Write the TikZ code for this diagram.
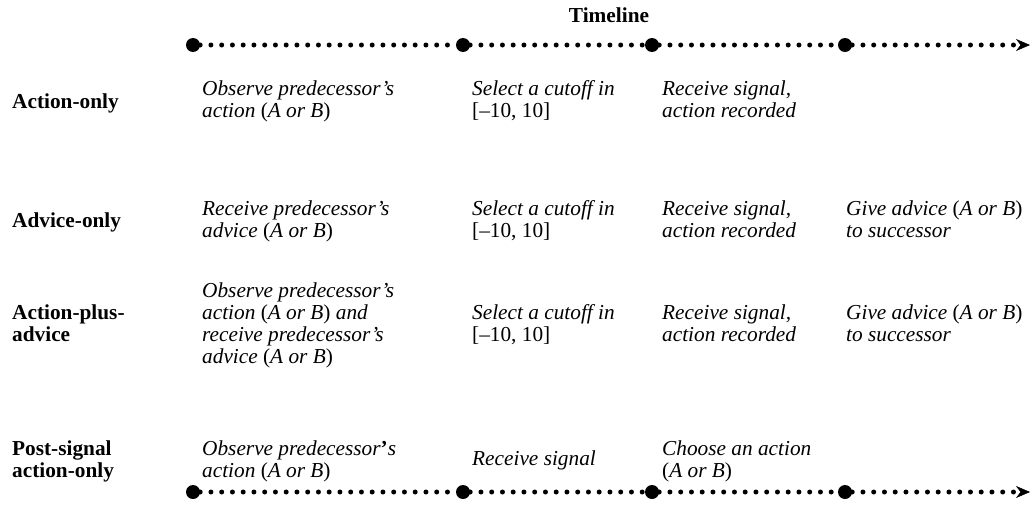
\documentclass[tikz,border=0pt]{standalone}
\usepackage{fontspec}
\setmainfont{Liberation Serif}
\usetikzlibrary{arrows.meta}
\newcommand\AorB{\textup{(}A or B\textup{)}}
\begin{document}
\begin{tikzpicture}[x=1pt,y=-1pt,
  every node/.style={inner sep=0pt, align=left, anchor=base west},
  lbl/.style={font=\fontsize{21.3}{22}\selectfont\bfseries},
  cell/.style={font=\fontsize{21.3}{22}\selectfont\itshape},
  bigdot/.style={circle, fill=black, minimum size=14pt, inner sep=0pt, anchor=center},
  dotline/.style={line width=5pt, line cap=round, dash pattern=on 0pt off 10.75pt},
  tip/.style={-{Stealth[length=14pt,width=12pt,inset=4.5pt,line width=0.5pt]}}
]
\useasboundingbox (0,0) rectangle (1031,522);
\node[lbl, anchor=base] (title) at (609,22) {Timeline};
% top timeline
\node[bigdot] (a1) at (193,45) {};
\node[bigdot] (a2) at (463,45) {};
\node[bigdot] (a3) at (652,45) {};
\node[bigdot] (a4) at (845,45) {};
\coordinate (aend) at (1030,45);
\draw[dotline] (a1) -- (a2);
\draw[dotline] (a2) -- (a3);
\draw[dotline] (a3) -- (a4);
\draw[dotline,tip] (a4) -- (aend);
% bottom timeline
\node[bigdot] (b1) at (193,492) {};
\node[bigdot] (b2) at (463,492) {};
\node[bigdot] (b3) at (652,492) {};
\node[bigdot] (b4) at (845,492) {};
\coordinate (bend) at (1030,492);
\draw[dotline] (b1) -- (b2);
\draw[dotline] (b2) -- (b3);
\draw[dotline] (b3) -- (b4);
\draw[dotline,tip] (b4) -- (bend);
% row 1 (base anchor = baseline of the last line)
\node[lbl] (r1) at (12,108) {Action-only};
\node[cell] (r1c1) at (202,117) {Observe predecessor’s\\action \AorB};
\node[cell] (r1c2) at (472,117) {Select a cutoff in\\\textup{[–10, 10]}};
\node[cell] (r1c3) at (662,117) {Receive signal,\\action recorded};
% row 2
\node[lbl] (r2) at (12,227) {Advice-only};
\node[cell] (r2c1) at (202,237) {Receive predecessor’s\\advice \AorB};
\node[cell] (r2c2) at (472,237) {Select a cutoff in\\\textup{[–10, 10]}};
\node[cell] (r2c3) at (662,237) {Receive signal,\\action recorded};
\node[cell] (r2c4) at (846,237) {Give advice \AorB\\to successor};
% row 3
\node[lbl] (r3) at (12,341) {Action-plus-\\advice};
\node[cell] (r3c1) at (202,363) {Observe predecessor’s\\action \AorB{} and\\receive predecessor’s\\advice \AorB};
\node[cell] (r3c2) at (472,341) {Select a cutoff in\\\textup{[–10, 10]}};
\node[cell] (r3c3) at (662,341) {Receive signal,\\action recorded};
\node[cell] (r3c4) at (846,341) {Give advice \AorB\\to successor};
% row 4
\node[lbl] (r4) at (12,477) {Post-signal\\action-only};
\node[cell] (r4c1) at (202,477) {Observe predecessor\textbf{\textup{’}}s\\action \AorB};
\node[cell] (r4c2) at (472,465) {Receive signal};
\node[cell] (r4c3) at (662,477) {Choose an action\\\AorB};
\end{tikzpicture}
\end{document}
